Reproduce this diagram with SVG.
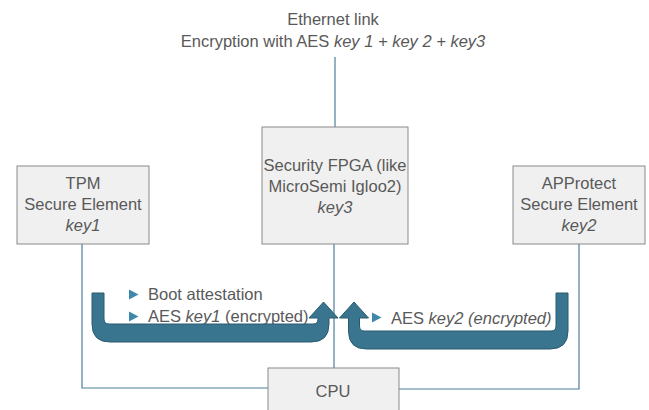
<svg xmlns="http://www.w3.org/2000/svg" width="649" height="410" viewBox="0 0 649 410">
<defs>
<style>
.t{font-family:"Liberation Sans",Arial,sans-serif;font-size:16.5px;fill:#595959}
.c{text-anchor:middle}
.i{font-style:italic}
.box{fill:#f0f0f0;stroke:#8a8a8a;stroke-width:1}
.ln{fill:none;stroke:#4d7f9a;stroke-width:1.2}
.arr{fill:#3a7590;stroke:#2a5a6e;stroke-width:1}
.bul{fill:#3f88aa}
</style>
</defs>
<rect width="649" height="410" fill="#ffffff"/>
<g id="connectors">
<line class="ln" x1="335" y1="57" x2="335" y2="127"/>
<line class="ln" x1="334" y1="244" x2="334" y2="368"/>
<path class="ln" d="M82,244 V388 H268"/>
<path class="ln" d="M579,244 V389 H399"/>
</g>
<g id="ethernet">
<text class="t c" x="333" y="25">Ethernet link</text>
<text class="t c" x="333" y="47">Encryption with AES <tspan class="i">key 1 + key 2 + key3</tspan></text>
</g>
<g id="tpm">
<rect class="box" x="17" y="166" width="132" height="78"/>
<text class="t c" x="83" y="189">TPM</text>
<text class="t c" x="83" y="210">Secure Element</text>
<text class="t c i" x="83" y="231">key1</text>
</g>
<g id="fpga">
<rect class="box" x="262" y="127" width="146" height="117"/>
<text class="t c" x="335" y="171">Security FPGA (like</text>
<text class="t c" x="335" y="192">MicroSemi Igloo2)</text>
<text class="t c i" x="335" y="213">key3</text>
</g>
<g id="approtect">
<rect class="box" x="513" y="166" width="132" height="78"/>
<text class="t c" x="579" y="189">APProtect</text>
<text class="t c" x="579" y="210">Secure Element</text>
<text class="t c i" x="579" y="231">key2</text>
</g>
<g id="cpu">
<rect class="box" x="268" y="368" width="131" height="50"/>
<text class="t c" x="333" y="397">CPU</text>
</g>
<g id="left-flow">
<polygon class="bul" points="129,289.5 138.5,294.5 129,299.5"/>
<text class="t" x="148" y="300">Boot attestation</text>
<polygon class="bul" points="129,311.5 138.5,316.5 129,321.5"/>
<text class="t" x="148" y="322">AES <tspan class="i">key1</tspan> (encrypted)</text>
<path class="arr" d="M92,293 H104 V319 Q104,324 109,324 H313 Q318,324 318,319 V318 H309 L323.5,302 L338,318 H329 V324 Q329,342 311,342 H110 Q92,342 92,324 Z"/>
</g>
<g id="right-flow">
<polygon class="bul" points="372,312.5 381.5,317.5 372,322.5"/>
<text class="t" x="391" y="324">AES <tspan class="i">key2 (encrypted)</tspan></text>
<path class="arr" d="M568,293 H556 V326 Q556,331 551,331 H364.5 Q359.5,331 359.5,326 V318 H368.5 L354,302 L339.5,318 H348.5 V331 Q348.5,349 366.5,349 H550 Q568,349 568,331 Z"/>
</g>
</svg>
